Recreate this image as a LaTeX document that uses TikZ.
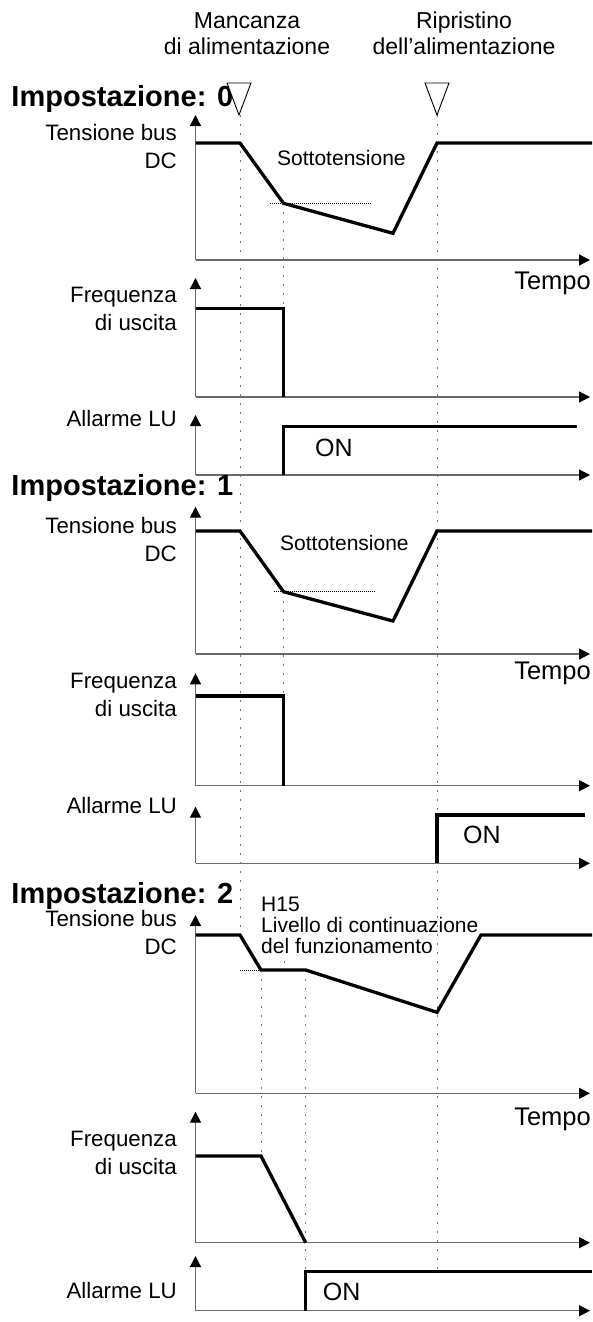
\documentclass[tikz,border=0pt]{standalone}
\usepackage{fontspec}
\setmainfont{Liberation Sans}
\usetikzlibrary{arrows.meta}
\definecolor{axisgray}{HTML}{6A6A6A}
\definecolor{guidegray}{HTML}{777777}
\tikzset{
  sig/.style={draw=black,line width=3.3pt,line join=miter},
  axis/.style={draw=axisgray,line width=1.3pt,
               -{Triangle[length=11pt,width=11pt,color=black]}},
  guide/.style={draw=guidegray,line width=1pt,dash pattern=on 2pt off 7pt},
  level/.style={draw=black,line width=0.6pt,dash pattern=on 1pt off 1pt},
  lbl/.style={font={\fontsize{22.3}{28}\selectfont},align=right,
              anchor=base east,inner sep=0pt},
  head/.style={font={\bfseries\fontsize{29}{34}\selectfont},anchor=base west,
               inner sep=0pt},
  event/.style={font={\fontsize{23}{26.7}\selectfont},align=center,
                anchor=base,inner sep=0pt},
  note/.style={font={\fontsize{21}{21}\selectfont},anchor=base west,
               inner sep=0pt},
  timelbl/.style={font={\fontsize{25.5}{30}\selectfont},anchor=base east,
                  inner sep=0pt},
  onlbl/.style={font={\fontsize{25}{30}\selectfont},anchor=base west,
                inner sep=0pt},
  flag/.style={draw=black,line width=0.9pt,fill=white,line join=miter}
}

\begin{document}
\begin{tikzpicture}[x=1pt,y=-1pt]
  \useasboundingbox (0,0) rectangle (592,1322);

  % events (base = last line)
  \node[event] (loss) at (247,55) {Mancanza\\di alimentazione};
  \node[event] (back) at (464,55) {Ripristino\\dell’alimentazione};
  \draw[guide] (240,115) -- (240,935);
  \draw[guide] (437,115) -- (437,1271.7);

  % Impostazione: 0
  \node[head] (title0) at (11.3,106.7) {Impostazione: 0};
  \draw[flag] (227,83) -- (251,83) -- (239,115) -- cycle;
  \draw[flag] (425,83) -- (449,83) -- (437,115) -- cycle;
  \node[lbl] (dc0) at (177,168.5) {Tensione bus\\DC};
  \node[lbl] (fr0) at (177,330) {Frequenza\\di uscita};
  \node[lbl] (lu0) at (177,426.7) {Allarme LU};
  \node[note] (uv0) at (277,165) {Sottotensione};
  \node[timelbl] (t0) at (591,289.3) {Tempo};
  \node[onlbl] (on0) at (315,456.7) {ON};
  \draw[guide] (283.5,203.3) -- (283.5,308.3);
  \draw[level] (270,203.3) -- (372,203.3);
  \draw[axis] (195.5,260) -- (195.5,115);
  \draw[axis] (195.5,260) -- (590,260);
  \draw[axis] (195.5,397) -- (195.5,278);
  \draw[axis] (195.5,397) -- (590,397);
  \draw[axis] (195.5,475) -- (195.5,415);
  \draw[axis] (195.5,475) -- (590,475);
  \draw[sig] (195.5,143) -- (240,143) -- (283.5,203.3) -- (393,233.3)
    -- (437,143) -- (592,143);
  \draw[sig] (195.5,308.3) -- (283.5,308.3) -- (283.5,397);
  \draw[sig] (283.5,475) -- (283.5,426.7) -- (577,426.7);

  % Impostazione: 1
  \node[head] (title1) at (11.3,495) {Impostazione: 1};
  \node[lbl] (dc1) at (177,561.5) {Tensione bus\\DC};
  \node[lbl] (fr1) at (177,716) {Frequenza\\di uscita};
  \node[lbl] (lu1) at (177,813.3) {Allarme LU};
  \node[note] (uv1) at (280,550) {Sottotensione};
  \node[timelbl] (t1) at (591,679.3) {Tempo};
  \node[onlbl] (on1) at (463,843.3) {ON};
  \draw[guide] (283.5,591.7) -- (283.5,696);
  \draw[level] (273.6,591.7) -- (375.5,591.7);
  \draw[axis] (195.5,654) -- (195.5,506.7);
  \draw[axis] (195.5,654) -- (590,654);
  \draw[axis] (195.5,785.7) -- (195.5,673.3);
  \draw[axis] (195.5,785.7) -- (590,785.7);
  \draw[axis] (195.5,863.3) -- (195.5,806.7);
  \draw[axis] (195.5,863.3) -- (590,863.3);
  \draw[sig] (195.5,531) -- (240,531) -- (283.5,591.7) -- (393,621)
    -- (437,531) -- (592,531);
  \draw[sig] (195.5,696) -- (283.5,696) -- (283.5,785.7);
  \draw[sig,line width=4.2pt] (437,863.3) -- (437,815) -- (585,815);

  % Impostazione: 2
  \node[head] (title2) at (11.3,903) {Impostazione: 2};
  \node[lbl] (dc2) at (177,954) {Tensione bus\\DC};
  \node[lbl] (fr2) at (177,1174) {Frequenza\\di uscita};
  \node[lbl] (lu2) at (177,1298.3) {Allarme LU};
  \node[note,align=left] (h15) at (261,953)
    {H15\\Livello di continuazione\\del funzionamento};
  \node[timelbl] (t2) at (591,1125) {Tempo};
  \node[onlbl] (on2) at (322.6,1300) {ON};
  \draw[guide] (261,970) -- (261,1156);
  \draw[guide] (305.7,970) -- (305.7,1271.7);
  \draw[guide] (284,961) -- (284,970);
  \draw[level] (240,970) -- (261,970);
  \draw[axis] (195.5,1093.3) -- (195.5,915);
  \draw[axis] (195.5,1093.3) -- (590,1093.3);
  \draw[axis] (195.5,1242.7) -- (195.5,1111.7);
  \draw[axis] (195.5,1242.7) -- (590,1242.7);
  \draw[axis] (195.5,1310.7) -- (195.5,1256);
  \draw[axis] (195.5,1310.7) -- (590,1310.7);
  \draw[sig] (195.5,935) -- (240,935) -- (261,970) -- (305.7,970)
    -- (437,1012.3) -- (481,935) -- (592,935);
  \draw[sig] (195.5,1156) -- (261,1156) -- (305.7,1242.7);
  \draw[sig] (305.7,1310.7) -- (305.7,1271.7) -- (592,1271.7);
\end{tikzpicture}
\end{document}
